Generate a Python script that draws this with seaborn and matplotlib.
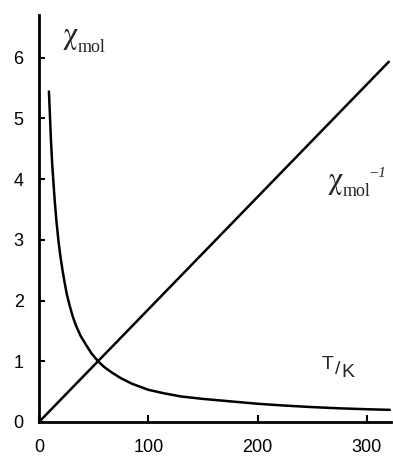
"""
Molar susceptibility and its inverse versus temperature (Curie law sketch).
"""

import matplotlib
matplotlib.use("Agg")
import matplotlib.pyplot as plt
import seaborn as sns

# Curve: chi_mol against T
temp_chi = [9.1, 10, 11, 12, 13, 14.5, 16, 17.7, 19.5, 21.5, 23.5, 25.5, 28, 31,
            34, 38, 43, 48, 54, 60, 67, 75, 85, 100, 115, 130, 150, 175, 200,
            225, 250, 275, 300, 321]
chi_mol = [5.44, 5.05, 4.62, 4.27, 4.0, 3.62, 3.3, 3.0, 2.74, 2.5, 2.29, 2.1, 1.92,
           1.73, 1.58, 1.42, 1.27, 1.13, 1.0, 0.9, 0.81, 0.72, 0.63, 0.53, 0.47,
           0.42, 0.38, 0.34, 0.30, 0.27, 0.245, 0.225, 0.21, 0.2]

# Straight line: inverse susceptibility
temp_inv = [0, 320]
chi_inv = [0, 5.93]

x_ticks = [0, 100, 200, 300]
y_ticks = [0, 1, 2, 3, 4, 5, 6]

sns.set_style("ticks")
plt.rcParams['font.family'] = ['Liberation Sans', 'DejaVu Sans']
plt.rcParams['mathtext.fontset'] = 'stix'

fig = plt.figure(figsize=(3.93, 4.57), dpi=100)
ax = fig.add_axes([0.0992, 0.0766, 0.8957, 0.8906])

sns.lineplot(x=temp_chi, y=chi_mol, ax=ax, color='black', linewidth=1.8, sort=False)
sns.lineplot(x=temp_inv, y=chi_inv, ax=ax, color='black', linewidth=1.8, sort=False)

ax.set_xlim(0, 322)
ax.set_ylim(0, 6.7)
ax.set_xticks(x_ticks)
ax.set_yticks(y_ticks)
ax.tick_params(axis='both', direction='in', width=1.5, labelsize=13, colors='black')
ax.tick_params(axis='x', length=5, pad=12)
ax.tick_params(axis='y', length=4.5, pad=11)

for side in ['top', 'right']:
    ax.spines[side].set_visible(False)
for side in ['left', 'bottom']:
    ax.spines[side].set_linewidth(2)
    ax.spines[side].set_color('black')

# Labels inside the plot
serif = 'Liberation Serif'
chi = r'$\mathrm{\chi}$'
ax.text(28.4, 6.33, chi, fontsize=22, ha='center', va='center')
ax.text(35.7, 6.16, 'mol', fontsize=13, family=serif, ha='left', va='center')

ax.text(271, 3.95, chi, fontsize=22, ha='center', va='center')
ax.text(278, 3.8, 'mol', fontsize=13, family=serif, ha='left', va='center')
ax.text(309.5, 4.09, '−1', fontsize=11, family=serif, style='italic', ha='center', va='center')

ax.text(264, 0.94, 'T', fontsize=14, ha='center', va='center')
ax.text(273.5, 0.87, '/', fontsize=14, ha='center', va='center')
ax.text(283, 0.81, 'K', fontsize=14, ha='center', va='center')

ax.set_xlabel('')
ax.set_ylabel('')

plt.savefig('out.png', dpi=100)
plt.close()
